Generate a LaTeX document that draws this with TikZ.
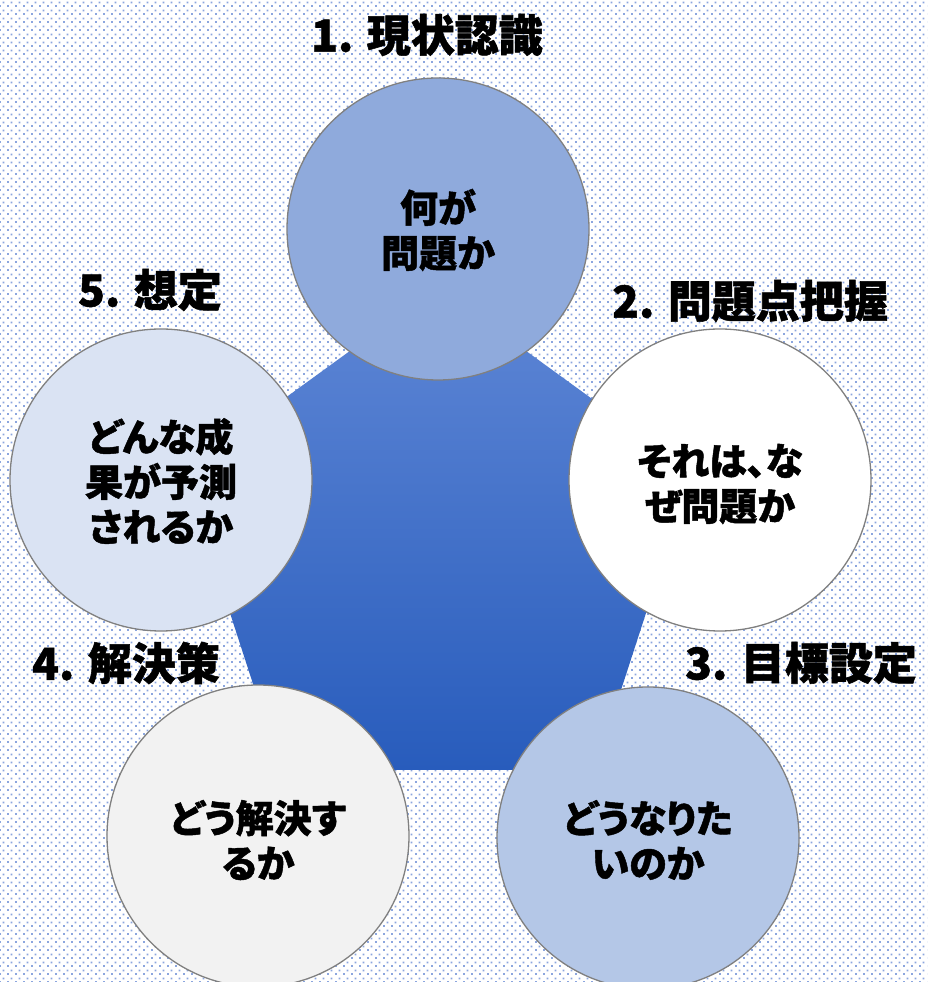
\documentclass[tikz,border=0pt]{standalone}
\usepackage{fontspec}
\newfontfamily\jp{Noto Sans CJK JP}[BoldFeatures={FakeBold=1.2}]
\newfontfamily\jpp{Noto Sans CJK JP}[RawFeature=+palt, BoldFeatures={FakeBold=1.2}]
\usetikzlibrary{patterns.meta}
\definecolor{dotblue}{RGB}{140,166,222}
\definecolor{pentop}{RGB}{95,135,214}
\definecolor{penbot}{RGB}{40,92,188}
\definecolor{cA}{RGB}{143,170,220}
\definecolor{cB}{RGB}{255,255,255}
\definecolor{cC}{RGB}{180,199,231}
\definecolor{cD}{RGB}{242,242,242}
\definecolor{cE}{RGB}{218,227,243}
\definecolor{rimgray}{RGB}{128,128,128}
\tikzdeclarepattern{
  name=bgdots,
  type=uncolored,
  bottom left={(0pt,0pt)},
  top right={(8pt,8pt)},
  tile size={(8pt,8pt)},
  code={
    \fill (0pt,0pt) rectangle (2pt,2pt);
    \fill (4pt,4pt) rectangle (6pt,6pt);
  }
}
\tikzset{
  bubble/.style={circle, draw=rimgray, line width=1.3pt, minimum size=302pt, inner sep=0pt},
  bubbletext/.style={align=center, font=\jpp\bfseries\fontsize{38}{45}\selectfont, text=black},
  steplabel/.style={font=\jp\bfseries\fontsize{44}{50}\selectfont, text=black, inner sep=0pt}
}
\begin{document}
\begin{tikzpicture}[x=1pt,y=1pt]
\useasboundingbox (0,0) rectangle (927,982);
\fill[white] (0,0) rectangle (927,982);
\fill[pattern={bgdots}, pattern color=dotblue] (0,0) rectangle (927,982);
% pentagon
\shade[top color=pentop, bottom color=penbot]
  (438,695) -- (692,510.5) -- (595,212) -- (281,212) -- (184,510.5) -- cycle;
% circles
\node[bubble, fill=cA] (c1) at (438,753) {};
\node[bubble, fill=cB] (c2) at (720,502) {};
\node[bubble, fill=cC] (c3) at (648,144) {};
\node[bubble, fill=cD] (c4) at (258,146) {};
\node[bubble, fill=cE] (c5) at (161,502) {};
% circle texts
\node[bubbletext] (t1) at (438,752) {何が\\問題か};
\node[bubbletext] (t2) at (720,498) {それは、な\\ぜ問題か};
\node[bubbletext] (t3) at (648,142) {どうなりた\\いのか};
\node[bubbletext] (t4) at (258,142) {どう解決す\\るか};
\node[bubbletext] (t5) at (161,501) {どんな成\\果が予測\\されるか};
% labels
\node[steplabel] (l1) at (427,947) {1. 現状認識};
\node[steplabel] (l2) at (750,681) {2. 問題点把握};
\node[steplabel] (l3) at (801,319) {3. 目標設定};
\node[steplabel] (l4) at (126,319) {4. 解決策};
\node[steplabel] (l5) at (150,692) {5. 想定};
\end{tikzpicture}
\end{document}
